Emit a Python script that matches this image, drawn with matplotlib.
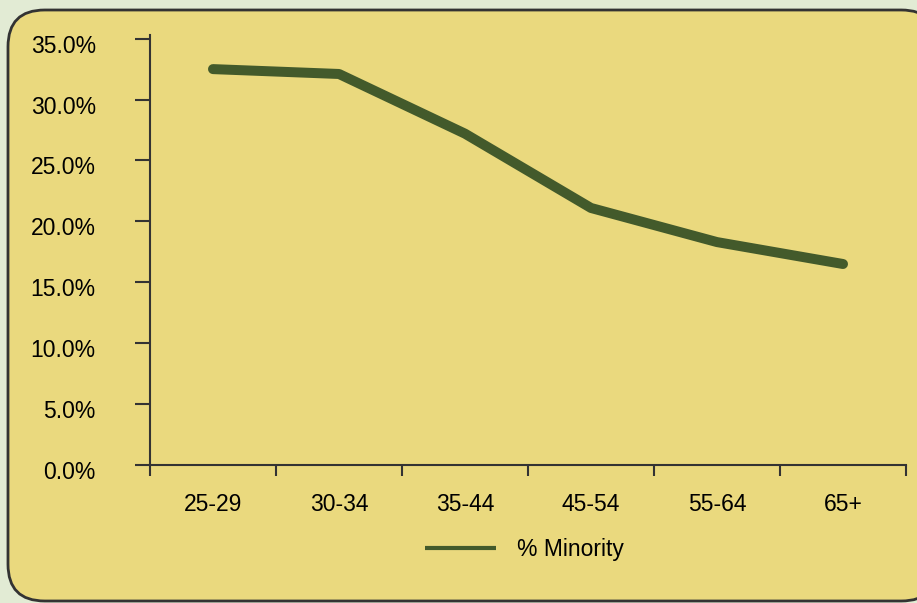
import numpy as np
import matplotlib.pyplot as plt
from matplotlib.patches import FancyBboxPatch
from matplotlib.transforms import ScaledTranslation

plt.rcParams['font.family'] = ['Liberation Sans', 'DejaVu Sans']

age_groups = ['25-29', '30-34', '35-44', '45-54', '55-64', '65+']
pct_minority = [32.5, 32.1, 27.2, 21.1, 18.3, 16.5]
y_ticks = [0, 5, 10, 15, 20, 25, 30, 35]

fig = plt.figure(figsize=(9.17, 6.03), dpi=100)
fig.patch.set_facecolor('#e2ebd4')

# rounded panel behind the plot
panel = FancyBboxPatch((8 / 917, 2 / 603), 930 / 917, 591 / 603,
                       boxstyle='round,pad=0,rounding_size=0.04',
                       transform=fig.transFigure, facecolor='#ead97e',
                       edgecolor='#333333', linewidth=2, mutation_aspect=917 / 603,
                       zorder=-10)
fig.patches.append(panel)

ax = fig.add_axes([150 / 917, 1 - 465 / 603, 756 / 917, 430 / 603])
ax.set_facecolor('none')

x = np.arange(len(age_groups)) + 0.5
ax.plot(x, pct_minority, color='#435a2b', linewidth=7.2, solid_capstyle='round',
        solid_joinstyle='round', label='% Minority')

ax.set_xlim(0, len(age_groups))
ax.set_ylim(0, 35.3)

for s in ['top', 'right']:
    ax.spines[s].set_visible(False)
for s in ['left', 'bottom']:
    ax.spines[s].set_color('#333333')
    ax.spines[s].set_linewidth(1.5)

ax.set_yticks(y_ticks)
ax.set_yticklabels(['%.1f%%' % v for v in y_ticks], fontsize=16.5)
ax.tick_params(axis='y', direction='out', length=11, width=1.5, color='#333333', pad=28)
# y labels sit a little below their ticks
shift = ScaledTranslation(0, -5 / 100, fig.dpi_scale_trans)
for lab in ax.get_yticklabels():
    lab.set_transform(lab.get_transform() + shift)

ax.set_xticks(np.arange(len(age_groups) + 1))
ax.set_xticklabels([])
ax.tick_params(axis='x', which='major', direction='out', length=8, width=1.5, color='#333333')
ax.set_xticks(x, minor=True)
ax.set_xticklabels(age_groups, minor=True, fontsize=16.5)
ax.tick_params(axis='x', which='minor', length=0, pad=20)

leg = ax.legend(loc='center', bbox_to_anchor=(0.572, 0.089), bbox_transform=fig.transFigure,
                frameon=False, fontsize=16.5, handlelength=3.1, handletextpad=0.95)
for h in leg.get_lines():
    h.set_linewidth(3)
    h.set_solid_capstyle('butt')

fig.savefig('out.png', dpi=100, facecolor=fig.get_facecolor())
